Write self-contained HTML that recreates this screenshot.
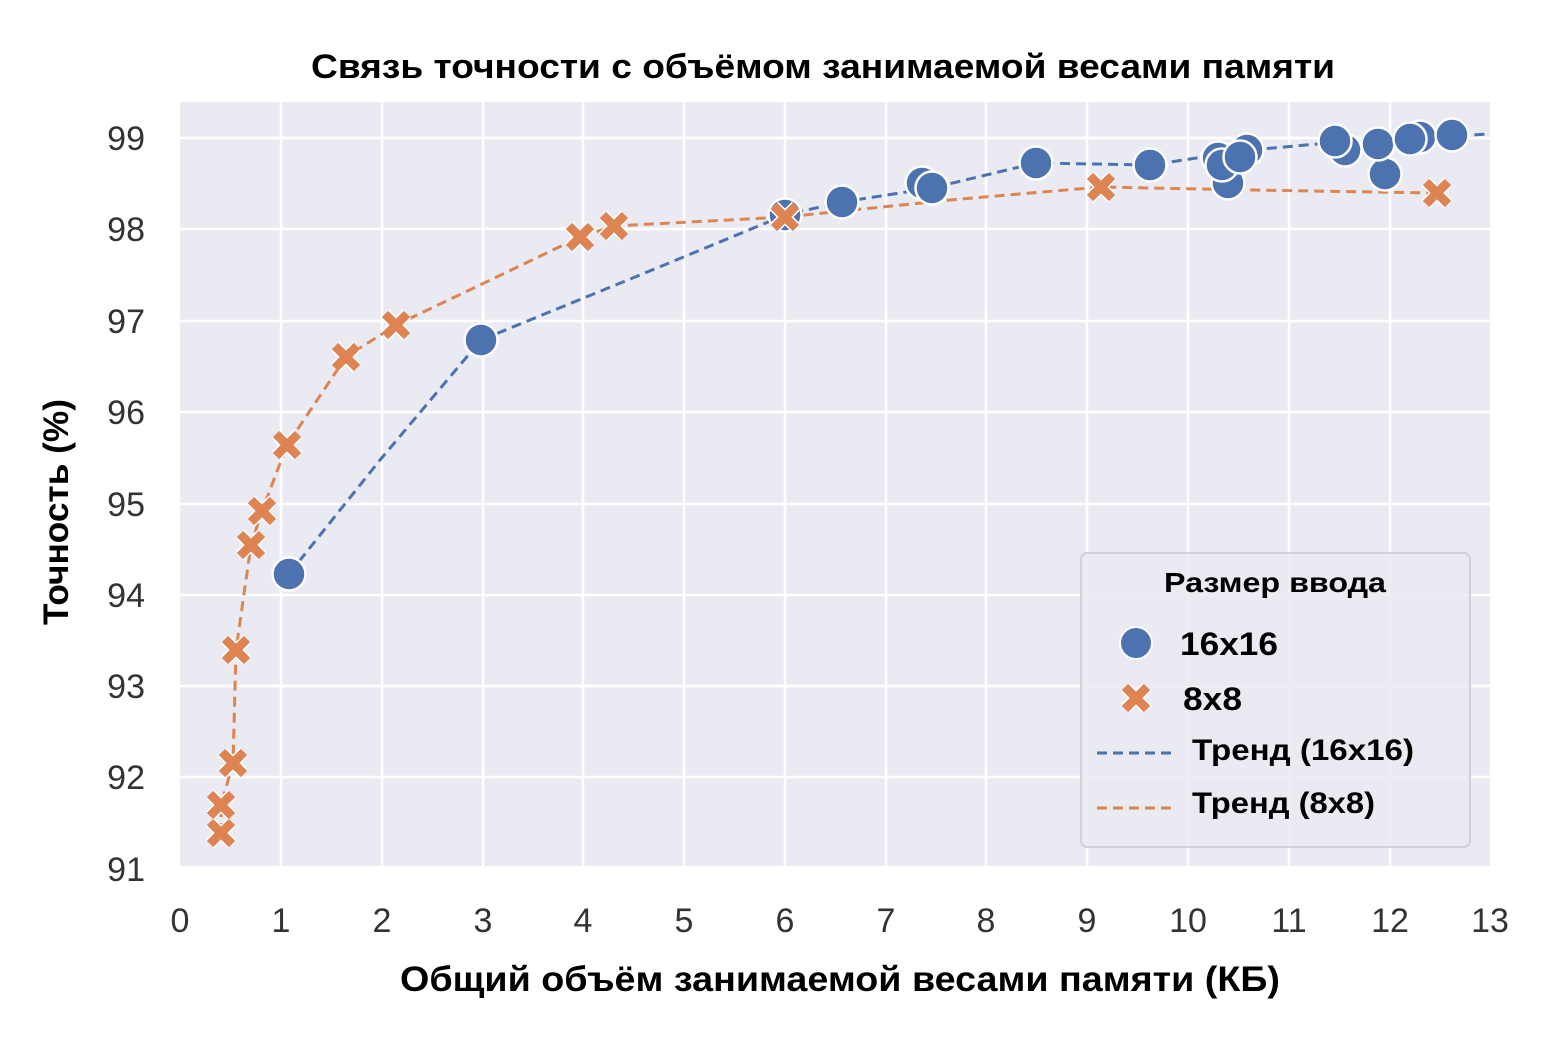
<!DOCTYPE html>
<html><head><meta charset="utf-8"><style>
html,body{margin:0;padding:0;background:#fff;width:1560px;height:1040px;overflow:hidden}
svg{display:block}
</style></head><body>
<svg width="1560" height="1040" xmlns="http://www.w3.org/2000/svg" font-family="Liberation Sans, DejaVu Sans, sans-serif">
<defs>
<g id="X"><path d="M-11,-11 L11,11 M11,-11 L-11,11" stroke="#fff" stroke-width="12" stroke-linecap="butt"/><path d="M-11,-11 L11,11 M11,-11 L-11,11" stroke="#dd8452" stroke-width="9" stroke-linecap="butt"/></g>
<g id="C"><circle r="16.5" fill="#4c72b0" stroke="#fff" stroke-width="2.5"/></g>
</defs>
<rect x="180" y="102" width="1310" height="764" fill="#eaeaf2"/>
<g stroke="#fff" stroke-width="2.5">
<line x1="281" y1="102" x2="281" y2="866"/><line x1="382" y1="102" x2="382" y2="866"/><line x1="483" y1="102" x2="483" y2="866"/><line x1="583" y1="102" x2="583" y2="866"/><line x1="684" y1="102" x2="684" y2="866"/><line x1="785" y1="102" x2="785" y2="866"/><line x1="886" y1="102" x2="886" y2="866"/><line x1="986" y1="102" x2="986" y2="866"/><line x1="1087" y1="102" x2="1087" y2="866"/><line x1="1188" y1="102" x2="1188" y2="866"/><line x1="1289" y1="102" x2="1289" y2="866"/><line x1="1390" y1="102" x2="1390" y2="866"/>
<line x1="180" y1="138" x2="1490" y2="138"/><line x1="180" y1="229" x2="1490" y2="229"/><line x1="180" y1="321" x2="1490" y2="321"/><line x1="180" y1="412" x2="1490" y2="412"/><line x1="180" y1="504" x2="1490" y2="504"/><line x1="180" y1="595" x2="1490" y2="595"/><line x1="180" y1="686" x2="1490" y2="686"/><line x1="180" y1="777" x2="1490" y2="777"/>
</g>
<polyline fill="none" stroke="#dd8452" stroke-width="3" stroke-dasharray="10,6" points="221,833 221,805 233,763 236,650 251,545 262,511 287,445 346,357 396,325 480,285 580,237 614,226 785,217 950,200 1101,187 1250,190 1437,193"/>
<polyline fill="none" stroke="#4c72b0" stroke-width="3" stroke-dasharray="10,6" points="289,574 380,460 481,340 640,275 785,215 842,202 932,188 1036,163 1150,165 1250,150 1340,142 1452,136 1490,134"/>
<g>
<use href="#C" x="289" y="574"/><use href="#C" x="481" y="340"/><use href="#C" x="785" y="215"/><use href="#C" x="842" y="202"/><use href="#C" x="922" y="183"/><use href="#C" x="932" y="188"/><use href="#C" x="1036" y="163"/><use href="#C" x="1150" y="165"/><use href="#C" x="1228" y="183"/><use href="#C" x="1218" y="158"/><use href="#C" x="1222" y="165"/><use href="#C" x="1247" y="150"/><use href="#C" x="1240" y="157"/><use href="#C" x="1345" y="150"/><use href="#C" x="1335" y="141"/><use href="#C" x="1385" y="174"/><use href="#C" x="1378" y="144"/><use href="#C" x="1420" y="137"/><use href="#C" x="1410" y="139"/><use href="#C" x="1452" y="135"/>
</g>
<g>
<use href="#X" x="221" y="833"/><use href="#X" x="221" y="805"/><use href="#X" x="233" y="763"/><use href="#X" x="236" y="650"/><use href="#X" x="251" y="545"/><use href="#X" x="262" y="511"/><use href="#X" x="287" y="445"/><use href="#X" x="346" y="357"/><use href="#X" x="396" y="325"/><use href="#X" x="580" y="237"/><use href="#X" x="614" y="226"/><use href="#X" x="785" y="217"/><use href="#X" x="1101" y="187"/><use href="#X" x="1437" y="193"/>
</g>
<rect x="1081" y="553" width="389" height="294" rx="6" fill="#eaeaf2" fill-opacity="0.85" stroke="#d0d0d8" stroke-width="2"/>
<g font-weight="bold" fill="#000">
<text x="1164" y="592" font-size="28" textLength="222" lengthAdjust="spacingAndGlyphs">Размер ввода</text>
<text x="1180" y="655" font-size="32" textLength="98" lengthAdjust="spacingAndGlyphs">16x16</text>
<text x="1183" y="710" font-size="32" textLength="59" lengthAdjust="spacingAndGlyphs">8x8</text>
<text x="1192" y="760" font-size="30" textLength="222" lengthAdjust="spacingAndGlyphs">Тренд (16x16)</text>
<text x="1192" y="813" font-size="30" textLength="183" lengthAdjust="spacingAndGlyphs">Тренд (8x8)</text>
</g>
<circle cx="1136" cy="643" r="16" fill="#4c72b0" stroke="#fff" stroke-width="2"/>
<use href="#X" x="1136" y="698"/>
<line x1="1097" y1="753" x2="1176" y2="753" stroke="#4c72b0" stroke-width="3" stroke-dasharray="10,6"/>
<line x1="1097" y1="808" x2="1176" y2="808" stroke="#dd8452" stroke-width="3" stroke-dasharray="10,6"/>
<g font-size="34" fill="#333" text-anchor="end">
<text x="145" y="150">99</text><text x="145" y="241">98</text><text x="145" y="333">97</text><text x="145" y="424">96</text><text x="145" y="516">95</text><text x="145" y="607">94</text><text x="145" y="698">93</text><text x="145" y="789">92</text><text x="145" y="881">91</text>
</g>
<g font-size="34" fill="#333" text-anchor="middle">
<text x="180" y="932">0</text><text x="281" y="932">1</text><text x="382" y="932">2</text><text x="483" y="932">3</text><text x="583" y="932">4</text><text x="684" y="932">5</text><text x="785" y="932">6</text><text x="886" y="932">7</text><text x="986" y="932">8</text><text x="1087" y="932">9</text><text x="1188" y="932">10</text><text x="1289" y="932">11</text><text x="1390" y="932">12</text><text x="1490" y="932">13</text>
</g>
<text x="311" y="78" font-size="34" font-weight="bold" textLength="1024" lengthAdjust="spacingAndGlyphs">Связь точности с объёмом занимаемой весами памяти</text>
<text x="400" y="991" font-size="35" font-weight="bold" textLength="880" lengthAdjust="spacingAndGlyphs">Общий объём занимаемой весами памяти (КБ)</text>
<text transform="translate(68,625) rotate(-90)" font-size="35" font-weight="bold" textLength="226" lengthAdjust="spacingAndGlyphs">Точность (%)</text>
</svg>
</body></html>
